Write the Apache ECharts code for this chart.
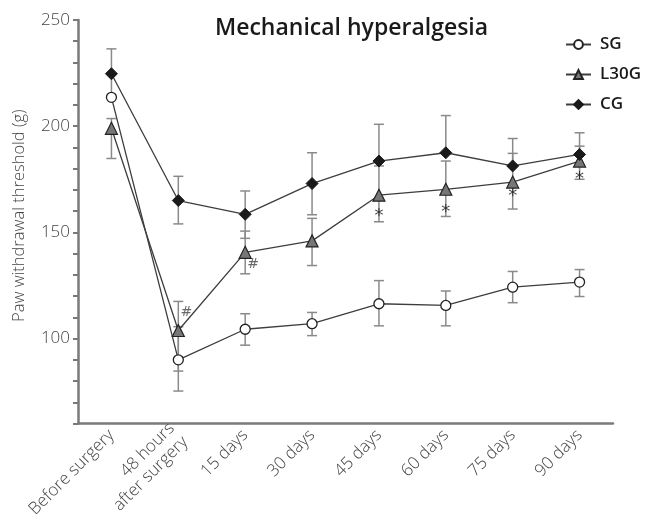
<!DOCTYPE html>
<html>
<head>
<meta charset="utf-8">
<script src="https://cdn.jsdelivr.net/npm/echarts@6/dist/echarts.min.js"></script>
<style>
  html, body { margin: 0; padding: 0; background: #fff; }
  #chart { width: 649px; height: 521px; }
</style>
</head>
<body>
<div id="chart"></div>
<script>
// time points
var categories = ['Before surgery', '48 hours\nafter surgery', '15 days', '30 days', '45 days', '60 days', '75 days', '90 days']

// mean values (g)
var sgData = [213.6, 90, 104.4, 107, 116.4, 115.6, 124.2, 126.6]
var l30gData = [199, 103.8, 140.6, 146, 167.5, 170.3, 173.7, 183.6]
var cgData = [224.7, 165, 158.5, 173, 183.6, 187.5, 181.3, 186.7]

// error bar ends as drawn (null = no bar)
var sgLow = [null, 75.3, 96.9, 101.4, 106, 106, 116.9, 119.8]
var sgHigh = [null, 105.6, 111.7, 112.3, 127.3, 122.4, 131.6, 132.5]
var l30gLow = [184.8, 84.7, 130.5, 134.4, 155, 157.5, 161, 175]
var l30gHigh = [203.6, 117.5, 150.6, 156.6, 181.3, 183.6, 187.2, 190.6]
var cgLow = [213.6, 154, 147.2, 158.3, 183.6, 187.5, 181.3, 186.7]
var cgHigh = [236.4, 176.4, 169.5, 187.5, 200.9, 205, 194.2, 196.9]

// significance marks: [category index, value, text]
var hashMarks = [[1, 112.5, '#'], [2, 134.8, '#']]
var starMarks = [[4, 159.4, '*'], [5, 161.3, '*'], [6, 168.7, '*'], [7, 177, '*']]

// y axis
var yMin = 60
var yMax = 250
var yStep = 10
var yLabelStep = 50

var lineColor = '#3d3d3d'
var barColor = '#8a8a8a'
var axisColor = '#7a7a7a'
var textColor = '#444'

function errorItems(low, high) {
  var res = []
  for (var i = 0; i < low.length; i++) {
    if (low[i] === null || high[i] === null) continue
    res.push([i, low[i], high[i]])
  }
  return res
}

function renderErrorBar(params, api) {
  var x = api.value(0)
  var lo = api.coord([x, api.value(1)])
  var hi = api.coord([x, api.value(2)])
  var w = 5
  var style = { stroke: barColor, lineWidth: 1.5, fill: null }
  return {
    type: 'group',
    children: [
      { type: 'line', shape: { x1: lo[0], y1: lo[1], x2: hi[0], y2: hi[1] }, style: style },
      { type: 'line', shape: { x1: lo[0] - w, y1: lo[1], x2: lo[0] + w, y2: lo[1] }, style: style },
      { type: 'line', shape: { x1: hi[0] - w, y1: hi[1], x2: hi[0] + w, y2: hi[1] }, style: style }
    ]
  }
}

var errData = errorItems(sgLow, sgHigh)
  .concat(errorItems(l30gLow, l30gHigh))
  .concat(errorItems(cgLow, cgHigh))

var chart = echarts.init(document.getElementById('chart'), null, { renderer: 'canvas' })

chart.setOption({
  animation: false,
  textStyle: { fontFamily: 'Open Sans' },
  title: {
    text: 'Mechanical hyperalgesia',
    left: 210,
    top: 12,
    textStyle: { fontFamily: 'Open Sans', fontSize: 23, fontWeight: 600, color: '#1a1a1a' }
  },
  legend: {
    orient: 'vertical',
    left: 560,
    top: 31,
    itemWidth: 25,
    itemHeight: 11,
    itemGap: 13,
    data: ['SG', 'L30G', 'CG'],
    textStyle: { fontFamily: 'Open Sans', fontSize: 17, fontWeight: 600, color: '#1a1a1a', padding: [0, 0, 0, 4] }
  },
  grid: {
    left: 78,
    right: 36,
    top: 20,
    bottom: 97,
    containLabel: false
  },
  xAxis: {
    type: 'category',
    data: categories,
    boundaryGap: true,
    axisLine: { lineStyle: { color: axisColor, width: 2.5 } },
    axisTick: { alignWithLabel: true, length: 5, lineStyle: { color: axisColor, width: 2 } },
    axisLabel: {
      rotate: 45,
      interval: 0,
      margin: 9,
      fontSize: 17,
      fontWeight: 300,
      color: textColor,
      lineHeight: 19
    }
  },
  yAxis: {
    type: 'value',
    min: yMin,
    max: yMax,
    interval: yStep,
    name: 'Paw withdrawal threshold (g)',
    nameLocation: 'middle',
    nameGap: 50,
    nameTextStyle: { fontSize: 16.5, fontWeight: 300, color: textColor, padding: [0, 0, 0, 12] },
    splitLine: { show: false },
    axisLine: { show: true, lineStyle: { color: axisColor, width: 2.5 } },
    axisTick: { show: true, length: 5, lineStyle: { color: axisColor, width: 2 } },
    axisLabel: {
      fontSize: 17,
      fontWeight: 300,
      color: textColor,
      margin: 8,
      formatter: function (v) {
        return v % yLabelStep === 0 ? String(v) : ''
      }
    }
  },
  series: [
    {
      name: 'errorbars',
      type: 'custom',
      renderItem: renderErrorBar,
      data: errData,
      encode: { x: 0, y: [1, 2] },
      z: 1,
      silent: true
    },
    {
      name: 'SG',
      type: 'line',
      data: sgData,
      symbol: 'circle',
      symbolSize: 10,
      lineStyle: { color: lineColor, width: 1.3 },
      itemStyle: { color: '#fff', borderColor: '#222', borderWidth: 1.3 },
      z: 3
    },
    {
      name: 'L30G',
      type: 'line',
      data: l30gData,
      symbol: 'triangle',
      symbolSize: 12,
      lineStyle: { color: lineColor, width: 1.3 },
      itemStyle: { color: '#777', borderColor: '#222', borderWidth: 1.2 },
      z: 3
    },
    {
      name: 'CG',
      type: 'line',
      data: cgData,
      symbol: 'diamond',
      symbolSize: 12,
      lineStyle: { color: lineColor, width: 1.3 },
      itemStyle: { color: '#1a1a1a', borderColor: '#1a1a1a', borderWidth: 1 },
      z: 4
    },
    {
      name: 'hash',
      type: 'scatter',
      data: hashMarks,
      symbolSize: 1,
      itemStyle: { color: 'rgba(0,0,0,0)' },
      label: {
        show: true,
        position: 'inside',
        offset: [8, 0],
        formatter: function (p) { return p.data[2] },
        fontFamily: 'DejaVu Sans',
        fontSize: 14,
        color: '#444'
      },
      silent: true
    },
    {
      name: 'star',
      type: 'scatter',
      data: starMarks,
      symbolSize: 1,
      itemStyle: { color: 'rgba(0,0,0,0)' },
      label: {
        show: true,
        position: 'inside',
        offset: [0, 4],
        formatter: function (p) { return p.data[2] },
        fontFamily: 'DejaVu Sans',
        fontSize: 18,
        color: '#111'
      },
      silent: true
    }
  ]
})
</script>
</body>
</html>
